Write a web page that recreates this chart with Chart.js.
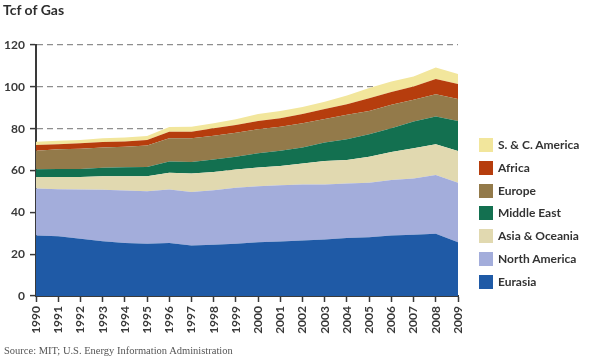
<!DOCTYPE html>
<html>
<head>
<meta charset="utf-8">
<script src="https://cdn.jsdelivr.net/npm/chart.js@4"></script>
<style>
  html, body { margin: 0; padding: 0; background: #fff; }
  #wrap { position: relative; width: 590px; height: 362px; overflow: hidden; font-family: Lato, "Open Sans", sans-serif; }
  #grafico { position: absolute; left: 0; top: 0; }
  .titulo { position: absolute; left: 3px; top: 1px; font-size: 14px; font-weight: bold; color: #2e2e2e; }
  .fuente { position: absolute; left: 4px; top: 345px; font-family: "Liberation Serif", "DejaVu Serif", serif; font-size: 10.5px; color: #555; }
  .leyenda { position: absolute; left: 479px; top: 138px; }
  .leyenda div { height: 14px; margin-bottom: 8.8px; font-size: 12px; font-weight: bold; color: #333; line-height: 14px; white-space: nowrap; }
  .leyenda span { display: inline-block; width: 14px; height: 14px; vertical-align: top; margin-right: 5px; }
</style>
</head>
<body>
<div id="wrap">
  <canvas id="grafico" width="590" height="362"></canvas>
  <div class="titulo">Tcf of Gas</div>
  <div class="leyenda" id="leyenda"></div>
  <div class="fuente">Source: MIT; U.S. Energy Information Administration</div>
</div>
<script>
// Años del eje x
const years = ['1990','1991','1992','1993','1994','1995','1996','1997','1998','1999',
               '2000','2001','2002','2003','2004','2005','2006','2007','2008','2009'];

// Consumo por región (Tcf), apilado de abajo arriba
const eurasia      = [28.9, 28.6, 27.4, 26.2, 25.3, 25.0, 25.3, 24.1, 24.5, 25.0, 25.7, 26.1, 26.5, 27.0, 27.7, 28.1, 28.9, 29.3, 29.8, 25.7];
const northAmerica = [22.5, 22.4, 23.5, 24.6, 25.1, 25.1, 25.6, 25.6, 26.0, 26.7, 26.8, 26.8, 26.8, 26.3, 26.1, 26.1, 26.5, 26.9, 28.0, 28.4];
const asiaOceania  = [5.5, 5.9, 6.0, 6.5, 6.9, 7.2, 8.0, 8.9, 8.8, 8.8, 8.9, 9.2, 10.1, 11.2, 11.2, 12.4, 13.5, 14.4, 14.7, 15.2];
const middleEast   = [3.7, 3.8, 3.8, 4.0, 4.3, 4.4, 5.4, 5.5, 6.0, 6.1, 6.8, 7.3, 7.6, 8.9, 10.0, 10.7, 11.3, 12.8, 13.3, 14.4];
const europe       = [8.8, 9.4, 9.7, 9.7, 9.8, 10.3, 11.1, 11.3, 11.3, 11.5, 11.5, 11.5, 11.6, 11.2, 11.6, 11.2, 11.2, 10.4, 10.7, 10.5];
const africa       = [2.8, 2.5, 2.6, 2.6, 2.5, 2.6, 3.1, 3.1, 3.6, 3.7, 4.0, 4.1, 4.4, 4.8, 5.1, 6.1, 6.1, 6.4, 7.3, 7.1];
const scAmerica    = [1.5, 1.6, 1.6, 1.8, 1.9, 1.9, 2.3, 2.4, 2.4, 2.7, 3.3, 3.5, 3.3, 3.5, 4.1, 4.8, 5.1, 4.7, 5.5, 4.8];

const yTicks = [0, 20, 40, 60, 80, 100, 120];

const series = [
  { label: 'Eurasia',         data: eurasia,      color: '#1f5aa6' },
  { label: 'North America',   data: northAmerica, color: '#a3addb' },
  { label: 'Asia & Oceania',  data: asiaOceania,  color: '#e1d9b0' },
  { label: 'Middle East',     data: middleEast,   color: '#137050' },
  { label: 'Europe',          data: europe,       color: '#937a4a' },
  { label: 'Africa',          data: africa,       color: '#b63d0d' },
  { label: 'S. & C. America', data: scAmerica,    color: '#f2e69c' }
];

// Leyenda en HTML, orden inverso al apilado
document.getElementById('leyenda').innerHTML = series.slice().reverse()
  .map(s => `<div><span style="background:${s.color}"></span>${s.label}</div>`).join('');

const ink = '#3a3a3a';
const tickFont = { family: 'Lato, "Open Sans", sans-serif', size: 12, weight: 'bold' };

new Chart(document.getElementById('grafico').getContext('2d'), {
  type: 'line',
  data: {
    labels: years,
    datasets: series.map((s, i) => ({
      label: s.label,
      data: s.data,
      backgroundColor: s.color,
      borderColor: s.color,
      borderWidth: 0,
      pointRadius: 0,
      tension: 0,
      fill: i === 0 ? 'origin' : '-1'
    }))
  },
  options: {
    responsive: false,
    animation: false,
    layout: { padding: { top: 45, right: 132, left: 0, bottom: 0 } },
    plugins: { legend: { display: false }, tooltip: { enabled: false } },
    scales: {
      x: {
        offset: false,
        afterFit: s => { s.height = 66; },
        grid: { drawOnChartArea: false, drawTicks: true, tickLength: 6, tickColor: ink, tickWidth: 1.5 },
        border: { display: true, color: ink, width: 2 },
        ticks: { autoSkip: false, minRotation: 90, maxRotation: 90, padding: 4, color: ink, font: tickFont }
      },
      y: {
        stacked: true,
        min: 0,
        max: 120,
        afterFit: s => { s.width = 36; },
        afterBuildTicks: s => { s.ticks = yTicks.map(v => ({ value: v })); },
        grid: { color: '#8e8e8e', lineWidth: 1.2, drawTicks: true, tickLength: 6, tickColor: ink, tickWidth: 1.5 },
        border: { display: true, color: ink, width: 2, dash: [6, 4] },
        ticks: { padding: 5, color: ink, font: tickFont }
      }
    }
  }
});
</script>
</body>
</html>
